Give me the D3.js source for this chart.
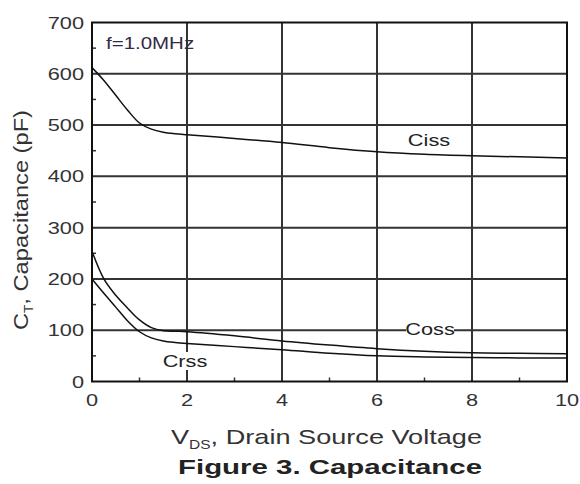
<!DOCTYPE html>
<html><head><meta charset="utf-8">
<script src="https://cdn.jsdelivr.net/npm/d3@7"></script>
<style>body{margin:0;background:#fff}svg{display:block}</style>
</head><body>
<svg id="c" width="580" height="484"></svg>
<script>
const vds   = [0, 0.25, 0.5, 0.75, 1.0, 1.25, 1.5, 1.75, 2, 3, 4, 5, 6, 7, 8, 9, 10];
const ciss  = [612, 587, 558, 529, 504, 492, 486, 483, 481, 474, 466, 456, 448, 443, 440, 438, 436];
const coss  = [254, 200, 168, 143, 120, 105, 99, 98, 97, 89, 79, 71, 64, 59, 56, 55, 54];
const crss  = [200, 172, 145, 118, 97, 85, 79, 76, 74, 68, 62, 55, 50, 48, 47, 46, 46];
const xTicks = [0, 2, 4, 6, 8, 10];
const yTicks = [0, 100, 200, 300, 400, 500, 600, 700];
const xMinor = [1, 3, 5, 7, 9];
const yMinor = [50, 150, 250, 350, 450, 550, 650];

const svg = d3.select("#c");
const L = 92, R = 567, T = 22.5, B = 381.5;
const x = d3.scaleLinear().domain([0, 10]).range([L, R]);
const y = d3.scaleLinear().domain([0, 700]).range([B, T]);
const font = "'Liberation Sans', Arial, sans-serif";
const SX = 1.28;

// grid
svg.append("g").selectAll("line").data(yTicks.slice(1, -1)).join("line")
  .attr("x1", L).attr("x2", R).attr("y1", d => y(d)).attr("y2", d => y(d))
  .attr("stroke", "#333").attr("stroke-width", 2);
svg.append("g").selectAll("line").data(xTicks.slice(1, -1)).join("line")
  .attr("y1", T).attr("y2", B).attr("x1", d => x(d)).attr("x2", d => x(d))
  .attr("stroke", "#333").attr("stroke-width", 2);

// minor ticks
svg.append("g").selectAll("line").data(yMinor).join("line")
  .attr("x1", L).attr("x2", L + 4).attr("y1", d => y(d)).attr("y2", d => y(d))
  .attr("stroke", "#333").attr("stroke-width", 1.5);
svg.append("g").selectAll("line").data(xMinor).join("line")
  .attr("x1", d => x(d)).attr("x2", d => x(d)).attr("y1", B).attr("y2", B - 4)
  .attr("stroke", "#333").attr("stroke-width", 1.5);

// curves
const line = d3.line().x((d, i) => x(vds[i])).y(d => y(d)).curve(d3.curveCatmullRom.alpha(0.5));
[ciss, coss, crss].forEach(s => {
  svg.append("path").attr("d", line(s)).attr("fill", "none")
    .attr("stroke", "#111").attr("stroke-width", 1.5);
});

// frame
svg.append("rect").attr("x", L).attr("y", T).attr("width", R - L).attr("height", B - T)
  .attr("fill", "none").attr("stroke", "#111").attr("stroke-width", 2);

function stretched(g, txt, cx, cy, size, anchor, color, bold) {
  return g.append("text").text(txt)
    .attr("transform", `translate(${cx},${cy}) scale(${SX},1)`)
    .attr("text-anchor", anchor).attr("font-family", font)
    .attr("font-size", size).attr("fill", color)
    .attr("font-weight", bold ? "bold" : "normal");
}

// tick labels
const tg = svg.append("g");
yTicks.forEach(v => stretched(tg, v, 84, y(v) + 6, 17, "end", "#333"));
xTicks.forEach(v => stretched(tg, v, x(v), 406, 17, "middle", "#333"));

// curve labels with white background
const labels = [
  {t: "Ciss", x: 429, y: 140, bg: false},
  {t: "Coss", x: 430, y: 329, bg: true},
  {t: "Crss", x: 185, y: 361, bg: true}
];
labels.forEach(l => {
  if (l.bg) svg.append("rect").attr("x", l.x - 24).attr("y", l.y - 9).attr("width", 48).attr("height", 18).attr("fill", "#fff");
  stretched(svg, l.t, l.x, l.y + 6, 17, "middle", "#222");
});
stretched(svg, "f=1.0MHz", 106, 49, 16, "start", "#332a44");

// axis titles
const xt = svg.append("text").attr("x", 171).attr("y", 444)
  .attr("font-family", font).attr("font-size", 21).attr("fill", "#333")
  .attr("textLength", 311).attr("lengthAdjust", "spacingAndGlyphs");
xt.append("tspan").text("V");
xt.append("tspan").text("DS").attr("font-size", 12).attr("dy", 5);
xt.append("tspan").text(",").attr("dy", -5);
xt.append("tspan").text(" Drain Source Voltage");

svg.append("text").attr("x", 178).attr("y", 474)
  .attr("font-family", font).attr("font-size", 20).attr("font-weight", "bold").attr("fill", "#222")
  .attr("textLength", 304).attr("lengthAdjust", "spacingAndGlyphs")
  .text("Figure 3. Capacitance");

const yt = svg.append("text").attr("transform", "translate(28,330) rotate(-90)")
  .attr("font-family", font).attr("font-size", 21).attr("fill", "#333")
  .attr("textLength", 220).attr("lengthAdjust", "spacingAndGlyphs");
yt.append("tspan").text("C");
yt.append("tspan").text("T").attr("font-size", 12).attr("dy", 5);
yt.append("tspan").text(",").attr("dy", -5);
yt.append("tspan").text(" Capacitance (pF)");
</script>
</body></html>
